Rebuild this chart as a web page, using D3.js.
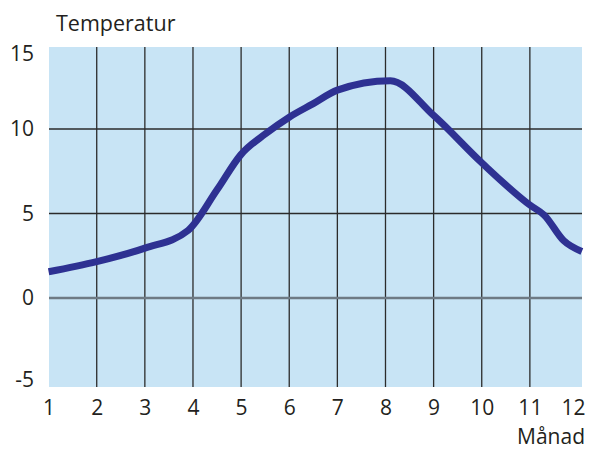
<!DOCTYPE html>
<html>
<head>
<meta charset="utf-8">
<script src="https://cdn.jsdelivr.net/npm/d3@7"></script>
<style>
  body { margin: 0; background: #fff; }
  text { font-family: "Open Sans", sans-serif; fill: #231f20; }
</style>
</head>
<body>
<svg id="chart" width="589" height="450"></svg>
<script>
// months (fractional where the curve bends) and temperature
var months = [1, 2, 3, 3.9, 4.5, 5, 5.5, 6, 6.5, 7, 8.1, 9, 10, 11, 11.3, 11.7, 12.08];
var temps  = [1.55, 2.15, 2.95, 4.0, 6.4, 8.5, 9.7, 10.7, 11.5, 12.3, 12.85, 10.8, 8.0, 5.5, 4.9, 3.4, 2.75];
var xTicks = [1, 2, 3, 4, 5, 6, 7, 8, 9, 10, 11, 12];
var yTicks = [-5, 0, 5, 10, 15];
var gridY = [5, 10];

var svg = d3.select("#chart");

var pLeft = 49, pRight = 582, pTop = 47, pBottom = 387;

var x = d3.scaleLinear().domain([1, 12]).range([48.6, 578]);
var y = d3.scaleLinear().domain([0, 10]).range([298, 129]);

// background
svg.append("rect")
  .attr("x", pLeft).attr("y", pTop)
  .attr("width", pRight - pLeft).attr("height", pBottom - pTop)
  .style("fill", "#c8e4f5");

// vertical grid
svg.selectAll(".vgrid").data(xTicks.slice(1, 11)).enter()
  .append("line")
    .attr("class", "vgrid")
    .attr("x1", function(d) { return x(d); })
    .attr("x2", function(d) { return x(d); })
    .attr("y1", pTop).attr("y2", pBottom)
    .style("stroke", "#2b2b2b")
    .style("stroke-width", 1.3);

// horizontal grid
svg.selectAll(".hgrid").data(gridY).enter()
  .append("line")
    .attr("class", "hgrid")
    .attr("x1", pLeft).attr("x2", pRight)
    .attr("y1", function(d) { return y(d); })
    .attr("y2", function(d) { return y(d); })
    .style("stroke", "#2b2b2b")
    .style("stroke-width", 1.3);

// zero line
svg.append("line")
  .attr("x1", pLeft).attr("x2", pRight)
  .attr("y1", y(0)).attr("y2", y(0))
  .style("stroke", "#6e7a84")
  .style("stroke-width", 2.5);

// temperature curve
var pts = months.map(function(m, i) { return [m, temps[i]]; });
var line = d3.line()
  .x(function(d) { return x(d[0]); })
  .y(function(d) { return y(d[1]); })
  .curve(d3.curveMonotoneX);

svg.append("path")
  .datum(pts)
  .attr("d", line)
  .style("fill", "none")
  .style("stroke", "#2e3192")
  .style("stroke-width", 7)
  .style("stroke-linejoin", "round");

// axes (labels only)
var xAxis = svg.append("g")
  .attr("transform", "translate(0," + 400 + ")")
  .call(d3.axisBottom(x).tickValues(xTicks).tickSize(0).tickPadding(0));
xAxis.select(".domain").remove();
xAxis.selectAll("text")
  .style("font-size", "21px")
  .style("font-family", "Open Sans, sans-serif")
  .attr("fill", "#231f20")
  .attr("dy", "0.71em");
xAxis.selectAll(".tick").filter(function(d) { return d == 12; })
  .select("text").attr("x", -5);

var yAxis = svg.append("g")
  .attr("transform", "translate(" + 34 + ",0)")
  .call(d3.axisLeft(y).tickValues(yTicks).tickSize(0).tickPadding(0)
    .tickFormat(function(d) { return String(d); }));
yAxis.select(".domain").remove();
yAxis.selectAll("text")
  .style("font-size", "21px")
  .style("font-family", "Open Sans, sans-serif")
  .attr("fill", "#231f20");
yAxis.selectAll(".tick").filter(function(d) { return d == 15; })
  .select("text").attr("y", 9);
yAxis.selectAll(".tick").filter(function(d) { return d == -5; })
  .select("text").attr("y", -3);

// axis titles
svg.append("text")
  .attr("x", 56).attr("y", 31)
  .style("font-size", "21.5px")
  .text("Temperatur");

svg.append("text")
  .attr("x", 585).attr("y", 444)
  .attr("text-anchor", "end")
  .style("font-size", "21px")
  .text("Månad");
</script>
</body>
</html>
